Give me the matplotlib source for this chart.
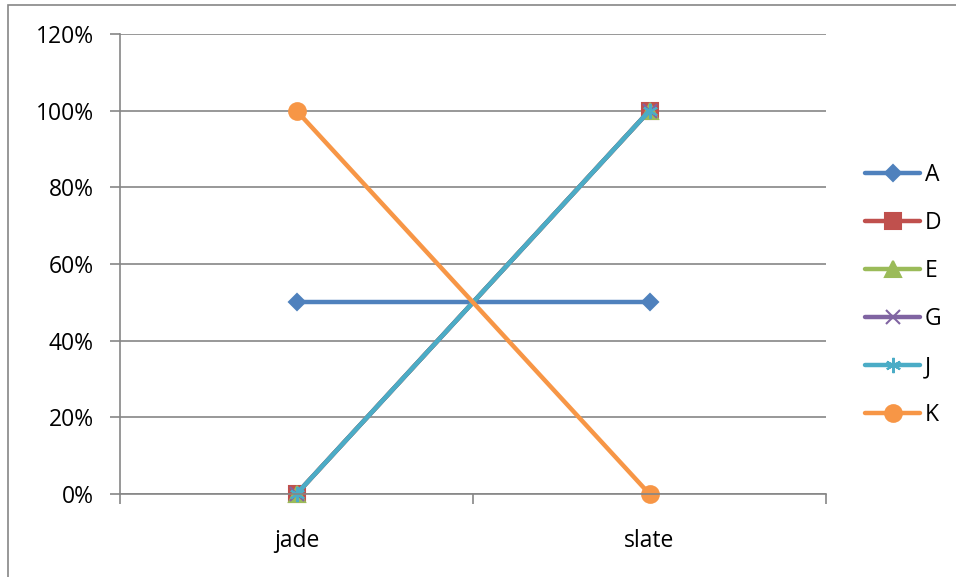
import matplotlib
matplotlib.use("Agg")
import matplotlib.pyplot as plt
from matplotlib.patches import Rectangle
from matplotlib.ticker import FuncFormatter

categories = ["jade", "slate"]
series_names = ["A", "D", "E", "G", "J", "K"]
A = [0.5, 0.5]
D = [0.0, 1.0]
E = [0.0, 1.0]
G = [0.0, 1.0]
J = [0.0, 1.0]
K = [1.0, 0.0]
series_values = [A, D, E, G, J, K]
y_ticks = [0, 0.2, 0.4, 0.6, 0.8, 1.0, 1.2]

colors = ["#4f81bd", "#c0504d", "#9bbb59", "#8064a2", "#4bacc6", "#f79646"]
markers = ["D", "s", "^", "x", (6, 2, 0), "o"]
msizes = [8, 12, 11, 10, 11, 12]

plt.rcParams['font.family'] = ['Open Sans', 'DejaVu Sans']
FS = 16.5

W, H = 956, 577
fig = plt.figure(figsize=(W / 100, H / 100), dpi=100)
ax = fig.add_axes([120 / W, 1 - 494 / H, (826 - 120) / W, (494 - 34) / H])

x = list(range(len(categories)))
for name, vals, c, m, ms in zip(series_names, series_values, colors, markers, msizes):
    ax.plot(x, vals, color=c, lw=3.2, marker=m, markersize=ms,
            markeredgecolor=c, markerfacecolor=c, markeredgewidth=1.5,
            label=name, solid_capstyle='round', clip_on=False)

ax.set_xlim(-0.5, 1.5)
ax.set_ylim(0, 1.2)
ax.set_yticks(y_ticks)
ax.yaxis.set_major_formatter(FuncFormatter(lambda v, p: f"{v*100:.0f}%"))
ax.set_xticks(x)
ax.set_xticklabels(categories)
ax.set_xticks([-0.5, 0.5, 1.5], minor=True)
ax.tick_params(axis='x', which='major', length=0, pad=25, labelsize=FS)
ax.tick_params(axis='x', which='minor', length=7, color='#868686', width=1.2)
ax.tick_params(axis='y', length=7, color='#868686', width=1.2, labelsize=FS, pad=12)
ax.grid(axis='y', color='#868686', lw=1.2)
ax.set_axisbelow(True)
for s in ['top', 'right']:
    ax.spines[s].set_visible(False)
for s in ['left', 'bottom']:
    ax.spines[s].set_color('#868686')
    ax.spines[s].set_linewidth(1.2)

leg = fig.legend(loc='upper left', bbox_to_anchor=(865 / W, 1 - 163 / H),
                 frameon=False, fontsize=FS, handlelength=2.4, handletextpad=0.2,
                 labelspacing=1.05, borderaxespad=0, borderpad=0)

fig.patches.append(Rectangle((8 / W, -0.1), 1.2, 1 - 5 / H + 0.1, transform=fig.transFigure,
                             fill=False, edgecolor='#868686', lw=1.2))

fig.savefig("out.png", dpi=100)
